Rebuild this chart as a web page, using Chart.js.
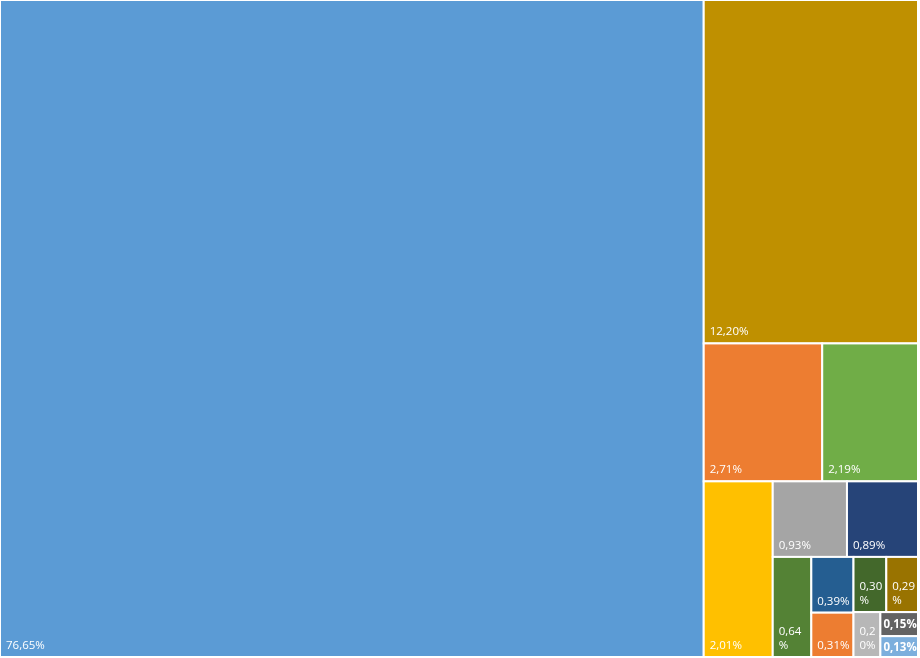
<!DOCTYPE html>
<html>
<head>
<meta charset="utf-8">
<script src="https://cdn.jsdelivr.net/npm/chart.js@4.4.0/dist/chart.umd.min.js"></script>
<style>
  html, body { margin: 0; padding: 0; background: #fff; }
  #wrap { width: 920px; height: 658px; }
</style>
</head>
<body>
<div id="wrap"><canvas id="treemap-chart"></canvas></div>
<script>
const shares = [76.65, 12.20, 2.71, 2.19, 2.01, 0.93, 0.89, 0.64, 0.39, 0.31, 0.30, 0.29, 0.20, 0.15, 0.13];
const cellColors = ['#5B9BD5', '#BF9000', '#ED7D31', '#70AD47', '#FFC000', '#A5A5A5', '#264478', '#548235',
    '#255E91', '#ED7D31', '#43682B', '#997300', '#B7B7B7', '#636363', '#7CAFDD'];
// how the space gets split: items in each strip, and whether the strip is a column (left) or a row (top)
const stripSizes = [1, 1, 2, 1, 2, 1, 2, 2, 1, 2];
const stripDirs = ['col', 'row', 'row', 'col', 'row', 'col', 'col', 'row', 'col', 'col'];

function sumOf(arr) {
    return arr.reduce(function (a, b) { return a + b; }, 0);
}

// slice the unit square into cells, in value units (0..1 on both axes)
function layoutCells() {
    var cells = [];
    var x = 0, y = 0, w = 1, h = 1;
    var rest = sumOf(shares);
    var k = 0;
    stripSizes.forEach(function (n, s) {
        var group = shares.slice(k, k + n);
        var sum = sumOf(group);
        if (stripDirs[s] === 'col') {
            var sw = w * sum / rest;
            var yy = y;
            group.forEach(function (v, i) {
                var hh = h * v / sum;
                cells.push({ x0: x, x1: x + sw, y0: yy, y1: yy + hh, v: v, idx: k + i });
                yy += hh;
            });
            x += sw; w -= sw;
        } else {
            var sh = h * sum / rest;
            var xx = x;
            group.forEach(function (v, i) {
                var ww = w * v / sum;
                cells.push({ x0: xx, x1: xx + ww, y0: y, y1: y + sh, v: v, idx: k + i });
                xx += ww;
            });
            y += sh; h -= sh;
        }
        rest -= sum;
        k += n;
    });
    return cells;
}

const cells = layoutCells();

function fmtShare(v) {
    return v.toFixed(2).replace('.', ',') + '%';
}

const treemapPlugin = {
    id: 'treemapCells',
    afterDatasetsDraw: function (chart) {
        var ctx = chart.ctx;
        var xs = chart.scales.x, ys = chart.scales.y;
        ctx.save();
        cells.forEach(function (c) {
            var px0 = xs.getPixelForValue(c.x0), px1 = xs.getPixelForValue(c.x1);
            var py0 = ys.getPixelForValue(c.y0), py1 = ys.getPixelForValue(c.y1);
            ctx.fillStyle = cellColors[c.idx];
            ctx.fillRect(px0, py0, px1 - px0, py1 - py0);
            ctx.strokeStyle = '#ffffff';
            ctx.lineWidth = 2;
            ctx.strokeRect(px0, py0, px1 - px0, py1 - py0);
        });

        // labels, bottom-left, wrapped per character like Excel does
        cells.forEach(function (c) {
            var px0 = xs.getPixelForValue(c.x0), px1 = xs.getPixelForValue(c.x1);
            var py0 = ys.getPixelForValue(c.y0), py1 = ys.getPixelForValue(c.y1);
            var cw = px1 - px0, ch = py1 - py0;
            var small = ch < 30;
            var padL = small ? 3 : 6;
            ctx.font = (small ? 'bold ' : '') + '11.5px "Open Sans", sans-serif';
            ctx.fillStyle = '#ffffff';
            ctx.textAlign = 'left';
            var avail = cw - padL - 1;
            var text = fmtShare(c.v);
            var lines = [], cur = '';
            for (var i = 0; i < text.length; i++) {
                var t = cur + text[i];
                if (cur && ctx.measureText(t).width > avail) {
                    lines.push(cur);
                    cur = text[i];
                } else {
                    cur = t;
                }
            }
            lines.push(cur);
            var lh = 14;
            if (small) {
                ctx.textBaseline = 'middle';
                ctx.fillText(lines.join(''), px0 + padL, (py0 + py1) / 2 + 1);
            } else {
                ctx.textBaseline = 'alphabetic';
                var base = py1 - 8 - (lines.length - 1) * lh;
                lines.forEach(function (ln, j) {
                    ctx.fillText(ln, px0 + padL, base + j * lh);
                });
            }
        });
        ctx.restore();
    }
};

new Chart(document.getElementById('treemap-chart'), {
    type: 'scatter',
    data: {
        datasets: [{
            label: 'share',
            data: cells.map(function (c) { return { x: (c.x0 + c.x1) / 2, y: (c.y0 + c.y1) / 2 }; }),
            pointRadius: 0,
            pointHoverRadius: 0
        }]
    },
    options: {
        responsive: true,
        maintainAspectRatio: false,
        animation: false,
        layout: { padding: { left: 0, top: 0, right: 2, bottom: 1 } },
        scales: {
            x: { type: 'linear', min: 0, max: 1, display: false },
            y: { type: 'linear', min: 0, max: 1, reverse: true, display: false }
        },
        plugins: {
            legend: { display: false },
            tooltip: { enabled: false }
        }
    },
    plugins: [treemapPlugin]
});
</script>
</body>
</html>
